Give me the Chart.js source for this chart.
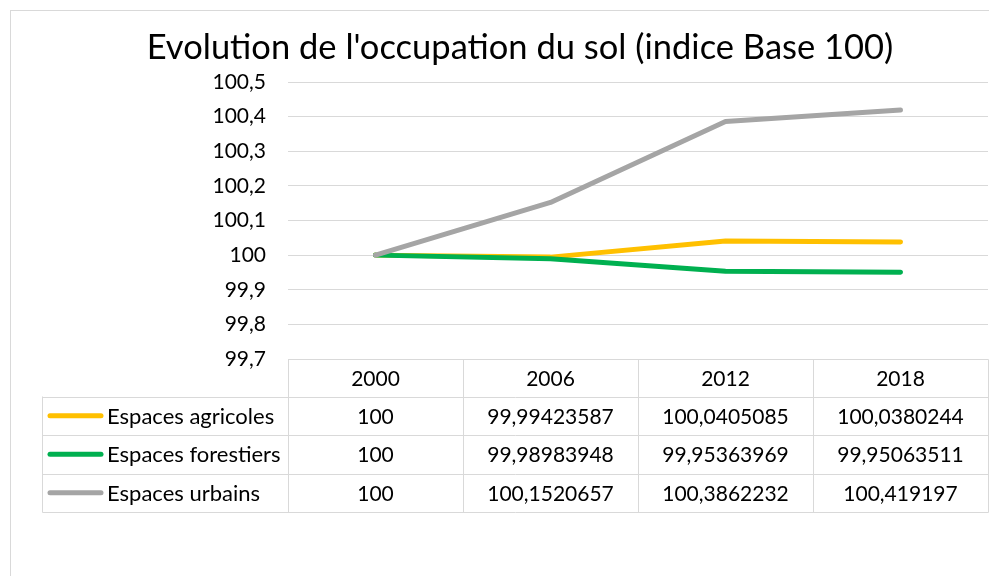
<!DOCTYPE html>
<html>
  <head>
    <title>Evolution de l'occupation du sol</title>
    <script src="https://cdn.jsdelivr.net/npm/chart.js"></script>
    <style>
      body { margin: 0; background: #fff; }
      .chartframe { position: relative; width: 989px; height: 576px; }
    </style>
  </head>
  <body>
    <div class="chartframe">
      <canvas id="myChart"></canvas>
    </div>
  </body>
</html>
<script>
//------------------------------------------------------------------------------
// data
//------------------------------------------------------------------------------
var titleText = "Evolution de l'occupation du sol (indice Base 100)";
var years = ['2000', '2006', '2012', '2018'];
var seriesNames = ['Espaces agricoles', 'Espaces forestiers', 'Espaces urbains'];
var agricoles = [100, 99.99423587, 100.0405085, 100.0380244];
var forestiers = [100, 99.98983948, 99.95363969, 99.95063511];
var urbains = [100, 100.1520657, 100.3862232, 100.419197];
var seriesColors = ['#FFC000', '#00B050', '#A5A5A5'];
var yMin = 99.7, yMax = 100.5, yStep = 0.1;

var FONT = 'Lato, "Liberation Sans", sans-serif';
var GRID = '#d9d9d9';

function fr(v) {
  return String(v).replace('.', ',');
}

//------------------------------------------------------------------------------
// title, outer border and data table (drawn on the canvas)
//------------------------------------------------------------------------------
var tablePlugin = {
  id: 'tablePlugin',
  beforeDraw: function(chart) {
    var c = chart.ctx;
    c.save();
    c.strokeStyle = GRID;
    c.lineWidth = 1;
    c.strokeRect(10.5, 10.5, 1200, 800);
    c.fillStyle = '#000';
    c.font = '34.5px ' + FONT;
    c.textAlign = 'center';
    c.textBaseline = 'alphabetic';
    c.fillText(titleText, 520, 59);
    c.restore();
  },
  afterDraw: function(chart) {
    var c = chart.ctx;
    var x = chart.scales.x;
    var area = chart.chartArea;
    var top = Math.round(area.bottom) + 0.5;
    var headH = 37, rowH = 38.5;
    var labelLeft = 42.5;
    var n = years.length;
    var bounds = [];
    for (var i = 0; i <= n; i++) bounds.push(Math.round(x.getPixelForValue(i - 0.5)) + 0.5);
    var rowsTop = top + headH;
    var bottom = rowsTop + rowH * seriesNames.length;

    c.save();
    c.strokeStyle = GRID;
    c.lineWidth = 1;
    c.beginPath();
    // vertical lines
    for (var i = 0; i <= n; i++) {
      c.moveTo(bounds[i], top);
      c.lineTo(bounds[i], Math.round(bottom) + 0.5);
    }
    c.moveTo(labelLeft, rowsTop);
    c.lineTo(labelLeft, Math.round(bottom) + 0.5);
    // horizontal lines
    c.moveTo(bounds[0], top);
    c.lineTo(bounds[n], top);
    for (var r = 0; r <= seriesNames.length; r++) {
      var yy = Math.round(rowsTop + r * rowH) + 0.5;
      c.moveTo(labelLeft, yy);
      c.lineTo(bounds[n], yy);
    }
    c.stroke();

    c.fillStyle = '#000';
    c.font = '21px ' + FONT;
    c.textBaseline = 'middle';
    c.textAlign = 'center';
    for (var i = 0; i < n; i++) {
      c.fillText(years[i], x.getPixelForValue(i), top + headH / 2 + 1);
    }
    chart.data.datasets.forEach(function(ds, r) {
      var cy = rowsTop + r * rowH + rowH / 2 + 1;
      c.textAlign = 'center';
      c.font = '21px ' + FONT;
      for (var i = 0; i < n; i++) {
        c.fillText(fr(ds.data[i]), x.getPixelForValue(i), cy);
      }
      // legend key
      c.strokeStyle = ds.borderColor;
      c.lineWidth = 5;
      c.lineCap = 'round';
      c.beginPath();
      c.moveTo(50, cy - 1);
      c.lineTo(101, cy - 1);
      c.stroke();
      c.textAlign = 'left';
      c.font = '22px ' + FONT;
      c.fillText(ds.label, 107, cy);
    });
    c.restore();
  }
};

//------------------------------------------------------------------------------
// chart
//------------------------------------------------------------------------------
var lists = [agricoles, forestiers, urbains];
var ctx = document.getElementById('myChart').getContext('2d');
var chart = new Chart(ctx, {
  type: 'line',
  data: {
    labels: years,
    datasets: seriesNames.map(function(name, i) {
      return {
        label: name,
        data: lists[i],
        borderColor: seriesColors[i],
        backgroundColor: seriesColors[i],
        borderWidth: 5,
        borderCapStyle: 'round',
        borderJoinStyle: 'round',
        pointRadius: 0,
        tension: 0,
        order: seriesNames.length - i
      };
    })
  },
  options: {
    responsive: true,
    maintainAspectRatio: false,
    animation: false,
    layout: { padding: { left: 0, right: 1, top: 82, bottom: 217 } },
    plugins: {
      legend: { display: false },
      tooltip: { enabled: false },
      title: { display: false }
    },
    scales: {
      x: {
        display: false,
        offset: true
      },
      y: {
        min: yMin,
        max: yMax,
        border: { display: false },
        grid: { color: GRID, lineWidth: 1, drawTicks: false },
        afterFit: function(scale) { scale.width = 288; },
        ticks: {
          stepSize: yStep,
          padding: 22,
          color: '#000',
          font: { family: FONT, size: 21 },
          callback: function(v) { return fr(Math.round(v * 10) / 10); }
        }
      }
    }
  },
  plugins: [tablePlugin]
});
</script>
